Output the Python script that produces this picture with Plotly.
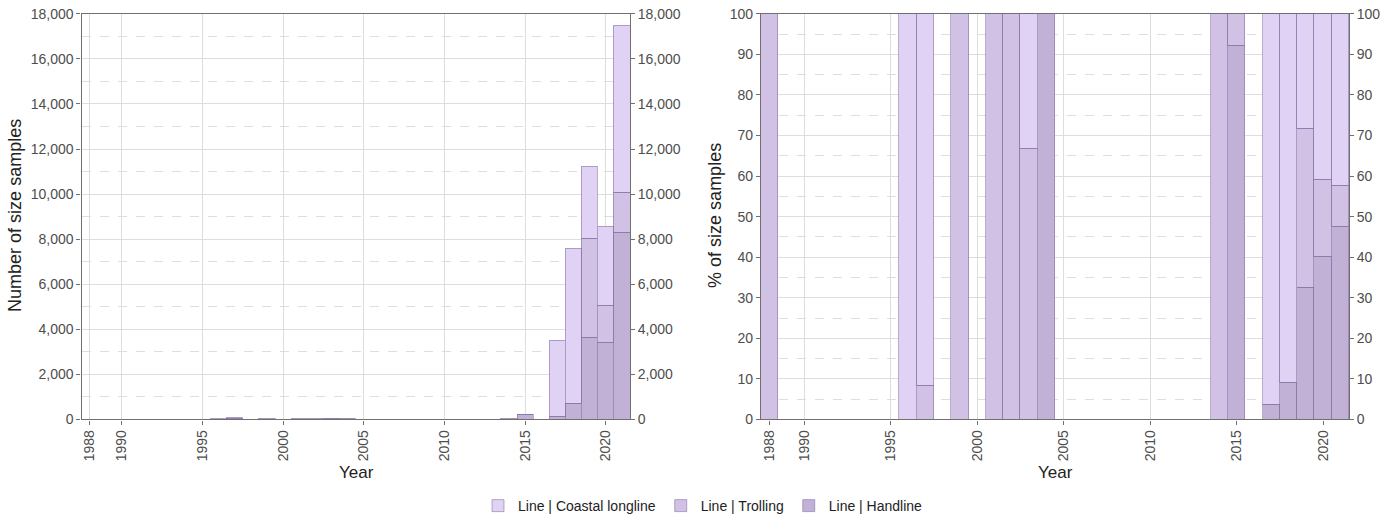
import plotly.graph_objects as go
import pandas as pd

# ---- data ----
years = [1988, 1996, 1997, 1999, 2001, 2002, 2003, 2004, 2014, 2015, 2017, 2018, 2019, 2020, 2021]
coastal_longline = [0, 6, 77, 0, 0, 0, 4, 0, 0, 0, 3365, 6880, 3180, 3490, 7400]
trolling = [2, 0, 7, 4, 10, 12, 8, 0, 15, 18, 0, 0, 4400, 1630, 1760]
handline = [0, 0, 0, 0, 0, 0, 0, 5, 0, 207, 125, 690, 3620, 3420, 8300]

x_tickvals = [1988, 1990, 1995, 2000, 2005, 2010, 2015, 2020]
count_ticks = list(range(0, 18001, 2000))
pct_ticks = list(range(0, 101, 10))

series_names = ["Line | Handline", "Line | Trolling", "Line | Coastal longline"]
series_colors = ["#c2b1d7", "#d1c1e5", "#e0d2f5"]

df = pd.DataFrame({"year": years, "Line | Coastal longline": coastal_longline,
                   "Line | Trolling": trolling, "Line | Handline": handline})
total = df[series_names].sum(axis=1)
pct = df[series_names].div(total, axis=0) * 100

W, H = 1399, 522
def px_x(v):
    return v / W
def px_y(v):
    return 1 - v / H

FONT = "Arial, Liberation Sans, sans-serif"
TICKCOL = "#4d4d4d"
LINECOL = "#707070"
GRIDCOL = "#dedede"
OUTLINE = "rgba(130,110,160,0.55)"

fig = go.Figure()
for name, col in zip(series_names, series_colors):
    keep = df[name] > 0
    fig.add_trace(go.Bar(x=df.loc[keep, "year"], y=df.loc[keep, name], name=name,
                         marker_color=col, marker_line=dict(color=OUTLINE, width=1),
                         xaxis="x", yaxis="y", legendgroup=name, showlegend=True,
                         width=1))
for name, col in zip(series_names, series_colors):
    keep = df[name] > 0
    fig.add_trace(go.Bar(x=df.loc[keep, "year"], y=pct.loc[keep, name], name=name,
                         marker_color=col, marker_line=dict(color=OUTLINE, width=1),
                         xaxis="x2", yaxis="y2", legendgroup=name, showlegend=False,
                         width=1))

# invisible companions so that the mirrored right-hand axes get drawn
fig.add_trace(go.Scatter(x=df["year"], y=total, mode="markers", marker=dict(opacity=0),
                         xaxis="x", yaxis="y3", showlegend=False, hoverinfo="skip"))
fig.add_trace(go.Scatter(x=df["year"], y=pct.sum(axis=1), mode="markers", marker=dict(opacity=0),
                         xaxis="x2", yaxis="y4", showlegend=False, hoverinfo="skip"))

TICKFONT = dict(family=FONT, size=14, color=TICKCOL)
xcommon = dict(range=[1987.5, 2021.5], tickmode="array", tickvals=x_tickvals,
               tickangle=-90, showgrid=True, gridcolor=GRIDCOL, gridwidth=1,
               ticks="outside", ticklen=4, tickcolor=LINECOL, showline=True,
               linecolor=LINECOL, linewidth=1.2, mirror=True, zeroline=False,
               tickfont=TICKFONT, automargin=False)
ycommon = dict(ticks="outside", ticklen=4, tickcolor=LINECOL, showline=True,
               linecolor=LINECOL, linewidth=1.2, mirror=True, zeroline=False,
               showgrid=True, gridcolor=GRIDCOL, gridwidth=1,
               tickfont=TICKFONT, automargin=False)
ymirror = dict(side="right", showgrid=False, ticks="outside", ticklen=4, tickcolor=LINECOL,
               showline=False, zeroline=False, tickfont=TICKFONT, automargin=False,
               tickmode="array")
ydom = [px_y(423.5), px_y(14)]

fig.update_layout(
    width=W, height=H, margin=dict(l=0, r=0, t=0, b=0),
    paper_bgcolor="white", plot_bgcolor="white",
    barmode="stack", bargap=0,
    font=dict(family=FONT, size=14, color=TICKCOL),
    xaxis=dict(domain=[px_x(81.5), px_x(630)], anchor="y", **xcommon),
    yaxis=dict(domain=ydom, anchor="x", range=[0, 18000], tickmode="array",
               tickvals=count_ticks, tickformat=",",
               minor=dict(dtick=1000, tick0=0, showgrid=True, gridcolor=GRIDCOL,
                          griddash="dash", ticks=""), **ycommon),
    yaxis3=dict(overlaying="y", anchor="x", range=[0, 18000], tickvals=count_ticks,
                tickformat=",", **ymirror),
    xaxis2=dict(domain=[px_x(761), px_x(1349)], anchor="y2", **xcommon),
    yaxis2=dict(domain=ydom, anchor="x2", range=[0, 100], tickmode="array",
                tickvals=pct_ticks,
                minor=dict(dtick=5, tick0=0, showgrid=True, gridcolor=GRIDCOL,
                           griddash="dash", ticks=""), **ycommon),
    yaxis4=dict(overlaying="y2", anchor="x2", range=[0, 100], tickvals=pct_ticks,
                **ymirror),
    legend=dict(orientation="h", x=px_x(703), xanchor="center", y=px_y(511), yanchor="middle",
                traceorder="reversed", font=dict(family=FONT, size=14, color="#222222"),
                itemclick=False),
    showlegend=True,
)

fig.add_annotation(text="Number of size samples", xref="paper", yref="paper",
                   x=px_x(15), y=px_y(218), textangle=-90, showarrow=False,
                   font=dict(family=FONT, size=18, color="#222222"),
                   xanchor="center", yanchor="middle")
fig.add_annotation(text="% of size samples", xref="paper", yref="paper",
                   x=px_x(715), y=px_y(218), textangle=-90, showarrow=False,
                   font=dict(family=FONT, size=18, color="#222222"),
                   xanchor="center", yanchor="middle")
fig.add_annotation(text="Year", xref="paper", yref="paper",
                   x=px_x(356), y=px_y(477), showarrow=False,
                   font=dict(family=FONT, size=17, color="#222222"),
                   xanchor="center", yanchor="middle")
fig.add_annotation(text="Year", xref="paper", yref="paper",
                   x=px_x(1055), y=px_y(477), showarrow=False,
                   font=dict(family=FONT, size=17, color="#222222"),
                   xanchor="center", yanchor="middle")

# make the page margin-free and fit the figure to the actual window viewport
post = """
var gd = document.getElementById('{plot_id}');
var de = document.documentElement, b = document.body;
de.style.margin = '0'; de.style.padding = '0'; de.style.overflow = 'hidden';
b.style.margin = '0'; b.style.padding = '0'; b.style.overflow = 'hidden';
var vw = window.innerWidth || de.clientWidth;
var vh = window.innerHeight || de.clientHeight;
if (vw > 0 && vh > 0) { Plotly.relayout(gd, {width: vw, height: vh}); }
"""
fig.write_html("out.html", config={"displayModeBar": False}, post_script=post)
